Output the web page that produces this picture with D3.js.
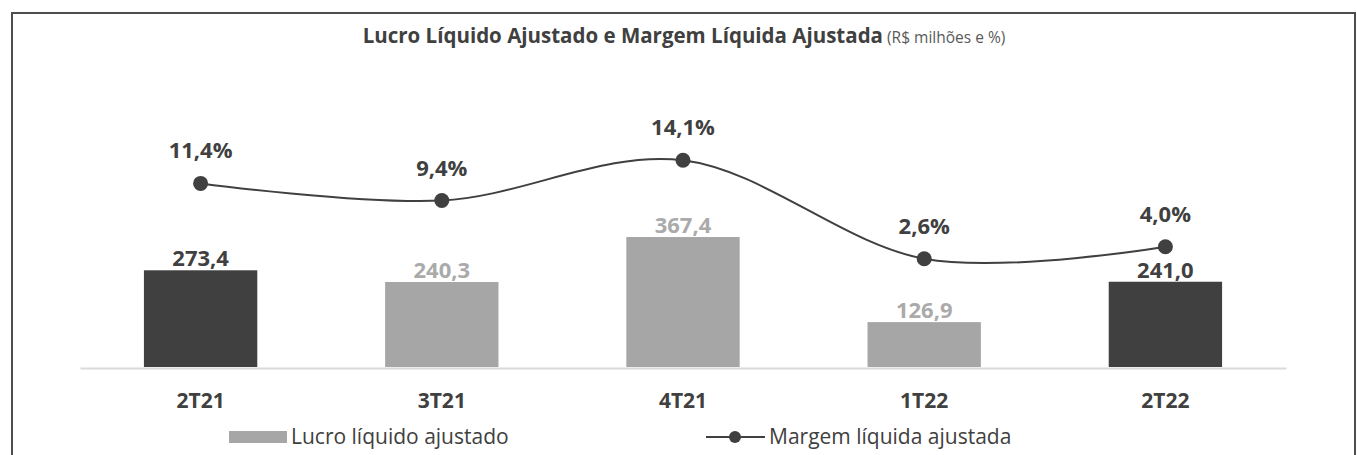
<!DOCTYPE html>
<html>
<head>
<meta charset="utf-8">
<script src="https://cdn.jsdelivr.net/npm/d3@7"></script>
<style>
  html, body { margin: 0; padding: 0; background: #fff; }
  svg { display: block; font-family: "Open Sans", "Noto Sans", sans-serif; }
</style>
</head>
<body>
<svg id="chart" width="1357" height="455"></svg>
<script>
// Quarterly adjusted net income (R$ millions) and adjusted net margin (%)
const categories = ["2T21", "3T21", "4T21", "1T22", "2T22"];
const lucro = [273.4, 240.3, 367.4, 126.9, 241.0];
const margem = [11.4, 9.4, 14.1, 2.6, 4.0];
const destaque = [true, false, false, false, true]; // year-over-year quarters in dark
const barLabels = ["273,4", "240,3", "367,4", "126,9", "241,0"];
const marginLabels = ["11,4%", "9,4%", "14,1%", "2,6%", "4,0%"];
const legendLabels = ["Lucro líquido ajustado", "Margem líquida ajustada"];

const DARK = "#404040";
const LIGHT = "#a6a6a6";

const svg = d3.select("#chart");

// outer frame
svg.append("path")
  .attr("d", "M12,470 V13 H1355 V470")
  .attr("fill", "none")
  .attr("stroke", "#4d4d4d")
  .attr("stroke-width", 2);

// title
const title = svg.append("text")
  .attr("x", 684).attr("y", 43)
  .attr("text-anchor", "middle")
  .attr("fill", DARK);
title.append("tspan")
  .attr("font-weight", 700).attr("font-size", 20.5)
  .text("Lucro Líquido Ajustado e Margem Líquida Ajustada");
title.append("tspan")
  .attr("font-size", 15.5).attr("fill", "#595959")
  .text(" (R$ milhões e %)");

// scales
const x = d3.scaleBand().domain(categories).range([80, 1286]).paddingInner(0.53).paddingOuter(0.265);
const yBar = d3.scaleLinear().domain([0, 400]).range([367, 225.5]);
const yLine = d3.scaleLinear().domain([0, 16]).range([281, 144]);

// category axis
const axis = svg.append("g").attr("transform", "translate(0,368)")
  .call(d3.axisBottom(x).tickSize(0).tickPadding(0));
axis.select(".domain").attr("stroke", "#d9d9d9").attr("stroke-width", 2);
axis.selectAll(".tick text")
  .attr("y", 40).attr("dy", null)
  .attr("font-family", "Open Sans, Noto Sans, sans-serif")
  .attr("font-size", 21).attr("font-weight", 700).attr("fill", DARK);

// bars
svg.append("g").selectAll("rect")
  .data(categories)
  .join("rect")
  .attr("x", d => x(d))
  .attr("width", x.bandwidth())
  .attr("y", (d, i) => yBar(lucro[i]))
  .attr("height", (d, i) => yBar(0) - yBar(lucro[i]))
  .attr("fill", (d, i) => destaque[i] ? DARK : LIGHT);

// bar value labels
svg.append("g").selectAll("text")
  .data(categories)
  .join("text")
  .attr("x", d => x(d) + x.bandwidth() / 2)
  .attr("y", (d, i) => yBar(lucro[i]) - 4)
  .attr("text-anchor", "middle")
  .attr("font-size", 22).attr("font-weight", 700)
  .attr("fill", (d, i) => destaque[i] ? DARK : "#aaaaaa")
  .text((d, i) => barLabels[i]);

// margin line
const pts = categories.map((d, i) => [x(d) + x.bandwidth() / 2, yLine(margem[i])]);
svg.append("path")
  .attr("d", d3.line().curve(d3.curveCardinal.tension(0))(pts))
  .attr("fill", "none")
  .attr("stroke", DARK)
  .attr("stroke-width", 2);

svg.append("g").selectAll("circle")
  .data(pts)
  .join("circle")
  .attr("cx", d => d[0]).attr("cy", d => d[1])
  .attr("r", 7.5).attr("fill", DARK);

svg.append("g").selectAll("text")
  .data(pts)
  .join("text")
  .attr("x", d => d[0]).attr("y", d => d[1] - 25)
  .attr("text-anchor", "middle")
  .attr("font-size", 22).attr("font-weight", 700)
  .attr("fill", DARK)
  .text((d, i) => marginLabels[i]);

// legend
const lg = svg.append("g");
lg.append("rect").attr("x", 229).attr("y", 431).attr("width", 58).attr("height", 12).attr("fill", LIGHT);
lg.append("text").attr("x", 291).attr("y", 444)
  .attr("font-size", 21).attr("fill", DARK).text(legendLabels[0]);
lg.append("line").attr("x1", 706).attr("x2", 765).attr("y1", 437).attr("y2", 437)
  .attr("stroke", DARK).attr("stroke-width", 2);
lg.append("circle").attr("cx", 735).attr("cy", 437).attr("r", 6).attr("fill", DARK);
lg.append("text").attr("x", 769).attr("y", 444)
  .attr("font-size", 21).attr("fill", DARK).text(legendLabels[1]);
</script>
</body>
</html>
